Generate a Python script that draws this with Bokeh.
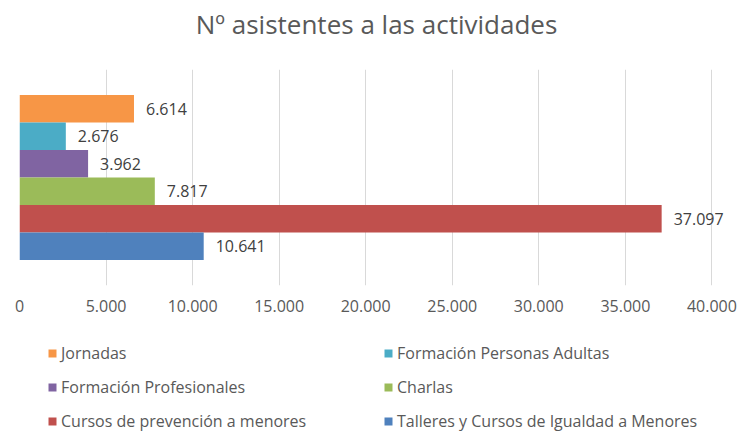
from bokeh.plotting import figure
from bokeh.models import Range1d, FixedTicker, Legend, LegendItem, ColumnDataSource, Label
from bokeh.layouts import column
from bokeh.embed import file_html
from bokeh.resources import INLINE
from bokeh.core.properties import value

title_text = "Nº asistentes a las actividades"
series = ["Jornadas", "Formación Personas Adultas", "Formación Profesionales",
          "Charlas", "Cursos de prevención a menores",
          "Talleres y Cursos de Igualdad a Menores"]
values = [6614, 2676, 3962, 7817, 37097, 10641]
value_labels = ["6.614", "2.676", "3.962", "7.817", "37.097", "10.641"]
colors = ["#F79646", "#4BACC6", "#8064A2", "#9BBB59", "#C0504D", "#4F81BD"]
x_ticks = [0, 5000, 10000, 15000, 20000, 25000, 30000, 35000, 40000]
x_tick_labels = ["0", "5.000", "10.000", "15.000", "20.000", "25.000",
                 "30.000", "35.000", "40.000"]

FONT = "Open Sans"
n = len(series)
pad = 0.93

W = 739
H0, H1, H2 = 69, 261, 102
left, bottom = 19, 45
axis_px = 692.4          # pixel length of the 0..40000 span
frame_w = W - left
x_end = x_ticks[-1] * frame_w / axis_px


def blank(h):
    f = figure(width=W, height=h, output_backend="svg", toolbar_location=None,
               x_axis_location=None, y_axis_location=None,
               min_border_left=0, min_border_right=0, min_border_top=0,
               min_border_bottom=0, x_range=Range1d(0, 1),
               y_range=Range1d(h, 0))
    f.outline_line_color = None
    f.grid.visible = False
    f.border_fill_color = "white"
    f.background_fill_color = "white"
    return f


# title strip
t = blank(H0)
t.add_layout(Label(x=0.5, y=23, x_offset=-3, text=title_text,
                   text_align="center", text_baseline="alphabetic",
                   text_font=FONT, text_font_size="26px",
                   text_color="#595959"))

# chart
p = figure(width=W, height=H1, output_backend="svg", toolbar_location=None,
           x_range=Range1d(x_ticks[0], x_end),
           y_range=Range1d(n - 0.5 + pad, -0.5 - pad),
           y_axis_location=None,
           min_border_left=left, min_border_right=0,
           min_border_top=0, min_border_bottom=bottom)
p.outline_line_color = None
p.background_fill_color = "white"
p.border_fill_color = "white"

idx = list(range(n))
src = ColumnDataSource(dict(y=idx, right=values, color=colors,
                            label=value_labels, name=series))
bars = p.hbar(y="y", right="right", left=0, height=1.0, fill_color="color",
              line_color=None, source=src)
p.text(x="right", y="y", text="label", source=src, x_offset=12,
       text_baseline="middle", text_align="left", text_font=value(FONT),
       text_font_size="16px", text_color="#404040")

xa = p.xaxis[0]
xa.ticker = FixedTicker(ticks=x_ticks)
xa.major_label_overrides = {t_: l for t_, l in zip(x_ticks, x_tick_labels)}
xa.axis_line_color = None
xa.major_tick_line_color = None
xa.minor_tick_line_color = None
xa.major_tick_out = 0
xa.major_tick_in = 0
xa.major_label_standoff = 14
xa.major_label_text_font = FONT
xa.major_label_text_font_size = "16px"
xa.major_label_text_color = "#595959"

p.xgrid.ticker = FixedTicker(ticks=x_ticks)
p.xgrid.grid_line_color = "#D9D9D9"
p.ygrid.visible = False

# legend strip; its swatch renderers are zero-size proxies
q = blank(H2)
swatches = []
for i in idx:
    r = q.hbar(y=[0], left=[0], right=[0], height=0,
               fill_color=colors[i], line_color=None)
    swatches.append(r)

# two columns, rows read left-to-right (column-major order for a vertical legend)
order = [0, 2, 4, 1, 3, 5]
items = [LegendItem(label=series[i], renderers=[swatches[i]]) for i in order]
legend = Legend(items=items, ncols=2, orientation="vertical",
                location=(28, 0), glyph_width=10, glyph_height=10,
                label_standoff=4, spacing=12, label_width=310, label_height=22,
                label_text_font=FONT, label_text_font_size="16px",
                label_text_color="#595959", border_line_color=None,
                background_fill_alpha=0, padding=0, margin=0)
q.add_layout(legend, "center")

open("out.html", "w").write(file_html(column(t, p, q), INLINE))
